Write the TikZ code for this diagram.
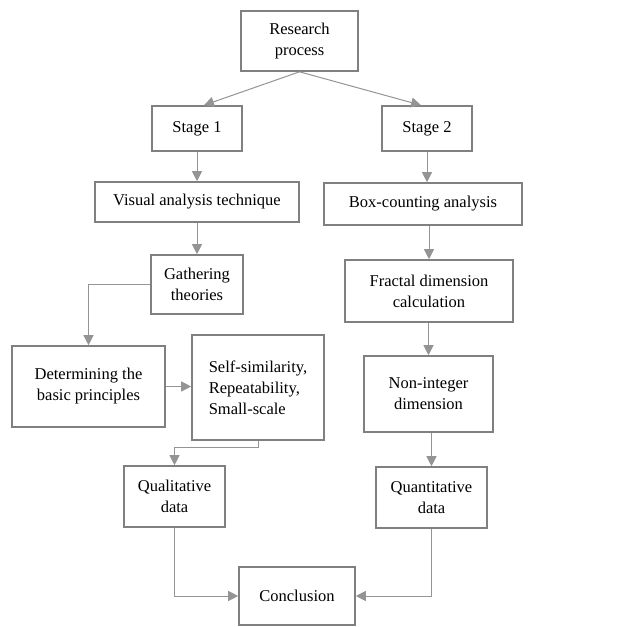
\documentclass[tikz,border=0pt]{standalone}
\usepackage{fontspec}
\setmainfont{Liberation Serif}
\usetikzlibrary{arrows.meta}
\definecolor{boxgray}{gray}{0.5}
\definecolor{linegray}{gray}{0.58}
\tikzset{
  stepbox/.style={draw=boxgray, line width=1.6pt, inner sep=0pt, align=center,
    font=\fontsize{16.5}{21}\selectfont},
  flow/.style={draw=linegray, line width=1pt, -{Triangle[length=10pt,width=10pt]}}
}
\begin{document}
\begin{tikzpicture}[x=1pt,y=-1pt]
  \useasboundingbox (0,0) rectangle (624,627);

  % top and stages
  \node[stepbox, minimum width=117pt, minimum height=60pt] (rp) at (299.5,41) {Research\\process};
  \node[stepbox, minimum width=90pt, minimum height=45pt] (s1) at (197,128.5) {Stage 1};
  \node[stepbox, minimum width=90pt, minimum height=45pt] (s2) at (427,128.5) {Stage 2};

  % left branch
  \node[stepbox, minimum width=204pt, minimum height=40pt] (vis) at (197,202) {Visual analysis technique};
  \node[stepbox, minimum width=92pt, minimum height=59pt] (gat) at (197,284.5) {Gathering\\theories};
  \node[stepbox, minimum width=153pt, minimum height=81pt] (det) at (88.5,386.5) {Determining the\\basic principles};
  \node[stepbox, align=left, minimum width=132pt, minimum height=105pt] (self) at (258,387.5) {Self-similarity,\\Repeatability,\\Small-scale};
  \node[stepbox, minimum width=101pt, minimum height=61pt] (qual) at (174.5,496.5) {Qualitative\\data};

  % right branch
  \node[stepbox, minimum width=198pt, minimum height=42pt] (box) at (423,204) {Box-counting analysis};
  \node[stepbox, minimum width=168pt, minimum height=62pt] (frac) at (429,291) {Fractal dimension\\calculation};
  \node[stepbox, minimum width=129pt, minimum height=76pt] (nonint) at (428.5,394) {Non-integer\\dimension};
  \node[stepbox, minimum width=111pt, minimum height=61pt] (quan) at (431.5,497.5) {Quantitative\\data};

  \node[stepbox, minimum width=116pt, minimum height=58pt] (conc) at (297,596) {Conclusion};

  % connectors
  \draw[flow] (rp.south) -- ([xshift=7pt]s1.north);
  \draw[flow] (rp.south) -- ([xshift=-6pt]s2.north);
  \draw[flow] (s1) -- (vis);
  \draw[flow] (vis) -- (gat);
  \draw[flow] (gat.west) -| (det.north);
  \draw[flow] (det.east) -- (det.east -| self.west);
  \draw[flow] (self.south) -- ++(0,7) -| (qual.north);
  \draw[flow] (qual.south) |- (conc.west);
  \draw[flow] (s2) -- (s2 |- box.north);
  \draw[flow] (box.south -| frac.north) -- (frac.north);
  \draw[flow] (frac.south -| nonint.north) -- (nonint.north);
  \draw[flow] (nonint.south -| quan.north) -- (quan.north);
  \draw[flow] (quan.south) |- (conc.east);
\end{tikzpicture}
\end{document}
